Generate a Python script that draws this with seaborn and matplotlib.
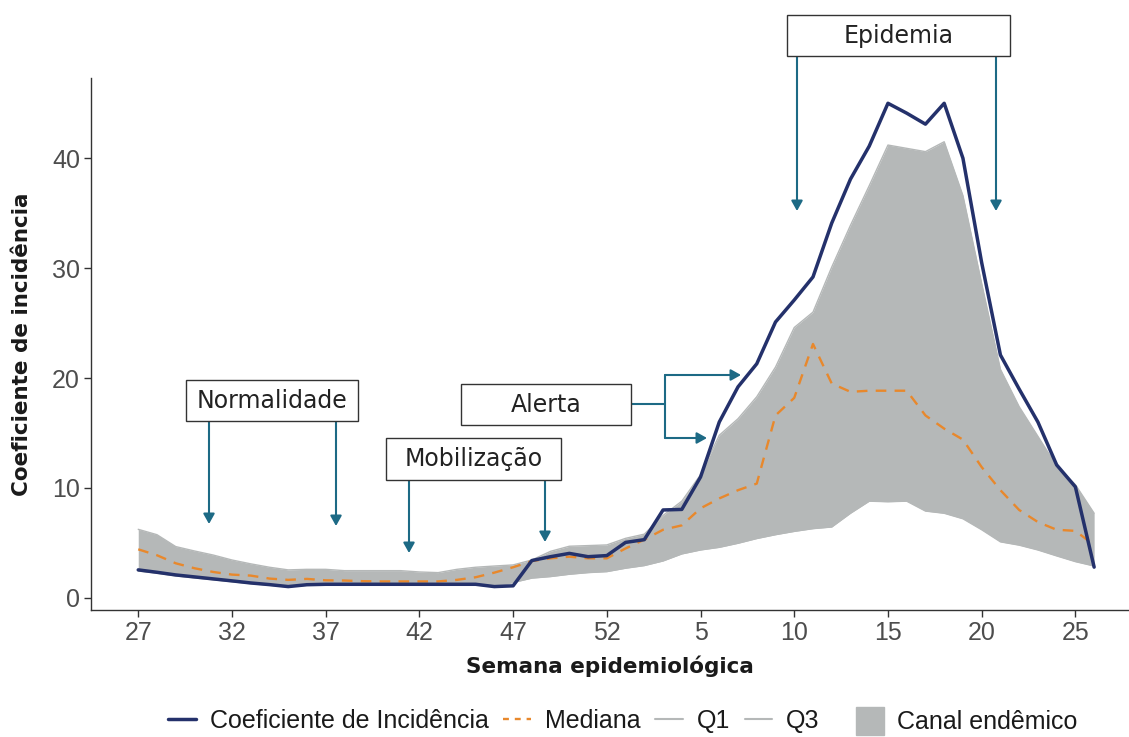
import matplotlib
matplotlib.use("Agg")
import numpy as np
import pandas as pd
import matplotlib.pyplot as plt
from matplotlib.lines import Line2D
from matplotlib.patches import Rectangle, Patch
import seaborn as sns

# semanas epidemiológicas (27 a 52, depois 1 a 26)
weeks = list(range(27, 53)) + list(range(1, 27))

incidencia = [2.55, 2.33, 2.09, 1.91, 1.73, 1.55, 1.36, 1.21, 1.03, 1.2,
              1.24, 1.24, 1.24, 1.24, 1.24, 1.24, 1.24, 1.24, 1.24, 1.03,
              1.1, 3.4, 3.75, 4.05, 3.75, 3.85, 5.05, 5.3, 8.0, 8.05,
              11.0, 16.0, 19.2, 21.3, 25.1, 27.1, 29.2, 34.1, 38.1, 41.1,
              45.0, 44.1, 43.1, 45.0, 40.0, 30.5, 22.1, 19.0, 16.0, 12.1,
              10.1, 2.8]

mediana = [4.42, 3.88, 3.15, 2.7, 2.36, 2.12, 2.03, 1.76, 1.64, 1.73,
           1.6, 1.58, 1.52, 1.5, 1.5, 1.5, 1.5, 1.64, 1.88, 2.3,
           2.79, 3.35, 3.6, 3.75, 3.6, 3.6, 4.5, 5.3, 6.2, 6.6,
           8.15, 9.05, 9.8, 10.4, 16.6, 18.2, 23.1, 19.5, 18.75, 18.85,
           18.85, 18.85, 16.6, 15.4, 14.4, 11.9, 9.8, 8.0, 6.9, 6.2,
           6.1, 4.8]

q1 = [2.45, 2.25, 2.0, 1.82, 1.65, 1.47, 1.3, 1.15, 1.0, 1.15,
      1.18, 1.18, 1.18, 1.18, 1.18, 1.18, 1.18, 1.18, 1.18, 1.0,
      1.4, 1.8, 1.94, 2.15, 2.3, 2.39, 2.7, 2.94, 3.36, 4.0,
      4.36, 4.6, 4.97, 5.4, 5.75, 6.05, 6.3, 6.45, 7.7, 8.8,
      8.75, 8.8, 7.9, 7.7, 7.2, 6.2, 5.1, 4.8, 4.36, 3.82,
      3.3, 2.9]

q3 = [6.24, 5.75, 4.67, 4.27, 3.9, 3.45, 3.1, 2.79, 2.55, 2.6,
      2.6, 2.48, 2.48, 2.48, 2.48, 2.36, 2.3, 2.6, 2.79, 2.9,
      3.0, 3.45, 4.24, 4.7, 4.76, 4.82, 5.42, 5.8, 7.5, 8.8,
      11.2, 14.8, 16.3, 18.3, 21.0, 24.6, 26.0, 30.1, 33.9, 37.5,
      41.2, 40.9, 40.6, 41.5, 36.6, 28.6, 20.8, 17.4, 14.7, 12.0,
      10.3, 7.7]

legend_labels = ["Coeficiente de Incidência", "Mediana", "Q1", "Q3"]
band_label = "Canal endêmico"

navy = "#24316b"
orange = "#e8882c"
band = "#b5b8b8"
teal = "#1d6a85"
ann_font = ["DejaVu Sans"]
title_font = ["DejaVu Sans"]

sns.set_style("white")
plt.rcParams["font.family"] = ["Liberation Sans", "DejaVu Sans"]

df = pd.DataFrame({"idx": np.arange(len(weeks)), "semana": weeks,
                   "ci": incidencia, "mediana": mediana, "q1": q1, "q3": q3})

W, H = 1129, 737
fig = plt.figure(figsize=(W / 100, H / 100), dpi=100)
ax = fig.add_axes([91 / W, 1 - 610 / H, 1 - 91 / W, (610 - 78) / H])


def fx(px):
    return px / W


def fy(py):
    return 1 - py / H


# canal endêmico
ax.fill_between(df["idx"], df["q1"], df["q3"], color=band, lw=0, zorder=1)
sns.lineplot(data=df, x="idx", y="q1", color=band, lw=1, ax=ax, zorder=2)
sns.lineplot(data=df, x="idx", y="q3", color=band, lw=1, ax=ax, zorder=2)
sns.lineplot(data=df, x="idx", y="mediana", color=orange, lw=1.7,
             linestyle=(0, (4.5, 3.5)), ax=ax, zorder=3)
sns.lineplot(data=df, x="idx", y="ci", color=navy, lw=2.5, ax=ax, zorder=4)

ax.set_xlim(-2.52, 52.86)
ax.set_ylim(-1.1, 47.3)
ax.set_xticks(range(0, len(weeks), 5))
ax.set_xticklabels([str(w) for w in weeks[::5]])
ax.set_yticks([0, 10, 20, 30, 40])
ax.tick_params(axis="both", bottom=True, left=True, length=5, width=1,
               color="#333333", labelsize=18, labelcolor="#4d4d4d", pad=3)
for s in ["top", "right"]:
    ax.spines[s].set_visible(False)
for s in ["left", "bottom"]:
    ax.spines[s].set_color("#333333")
    ax.spines[s].set_linewidth(1)

ax.set_xlabel("Semana epidemiológica", fontsize=15.5, fontweight="bold",
              family=title_font, color="#1a1a1a")
ax.set_ylabel("Coeficiente de incidência", fontsize=15.5, fontweight="bold",
              family=title_font, color="#1a1a1a")
ax.xaxis.label.set_va("center")
ax.yaxis.label.set_va("center")
ax.xaxis.set_label_coords(0.5, (610 - 666) / 532)
ax.yaxis.set_label_coords((22 - 91) / 1038, 0.5)


# caixas das fases
def caixa(x0, y0, x1, y1, texto):
    fig.patches.append(Rectangle((fx(x0), fy(y1)), fx(x1) - fx(x0), fy(y0) - fy(y1),
                                 transform=fig.transFigure, fc="white",
                                 ec="#333333", lw=1, zorder=5))
    fig.text(fx((x0 + x1) / 2), fy((y0 + y1) / 2), texto, ha="center", va="center",
             fontsize=17, family=ann_font, color="#222222", zorder=6)


def seta(x0, y0, x1, y1):
    ax.annotate("", xy=(fx(x1), fy(y1)), xytext=(fx(x0), fy(y0)),
                xycoords="figure fraction", textcoords="figure fraction",
                arrowprops=dict(arrowstyle="-|>,head_length=0.5,head_width=0.28",
                                color=teal, lw=1.5, mutation_scale=12,
                                shrinkA=0, shrinkB=0), annotation_clip=False)


def linha(xs, ys):
    fig.lines.append(Line2D([fx(x) for x in xs], [fy(y) for y in ys],
                            transform=fig.transFigure, color=teal, lw=1.5))


caixa(186, 380, 358, 421, "Normalidade")
seta(209, 421, 209, 524)
seta(336, 421, 336, 526)

caixa(386, 438, 561, 480, "Mobilização")
seta(409, 480, 409, 553)
seta(545, 480, 545, 542)

caixa(461, 384, 631, 425, "Alerta")
linha([631, 665], [404, 404])
linha([665, 665], [375, 438])
seta(665, 375, 741, 375)
seta(665, 438, 707, 438)

caixa(787, 15, 1010, 56, "Epidemia")
seta(797, 56, 797, 211)
seta(996, 56, 996, 211)

# legendas
handles = [Line2D([], [], color=navy, lw=2.5),
           Line2D([], [], color=orange, lw=1.7, linestyle=(0, (2.5, 2.5))),
           Line2D([], [], color=band, lw=1.5),
           Line2D([], [], color=band, lw=1.5)]
leg1 = fig.legend(handles, legend_labels, ncol=4, loc="center",
                  bbox_to_anchor=(fx(494), fy(721)), frameon=False, fontsize=18,
                  handlelength=1.1, handletextpad=0.55, columnspacing=0.6,
                  labelcolor="#1a1a1a")
leg2 = fig.legend([Patch(color=band)], [band_label], loc="center",
                  bbox_to_anchor=(fx(967), fy(721)), frameon=False, fontsize=18,
                  handlelength=1.1, handleheight=1.4, handletextpad=0.55,
                  labelcolor="#1a1a1a")

fig.savefig("out.png", dpi=100)
